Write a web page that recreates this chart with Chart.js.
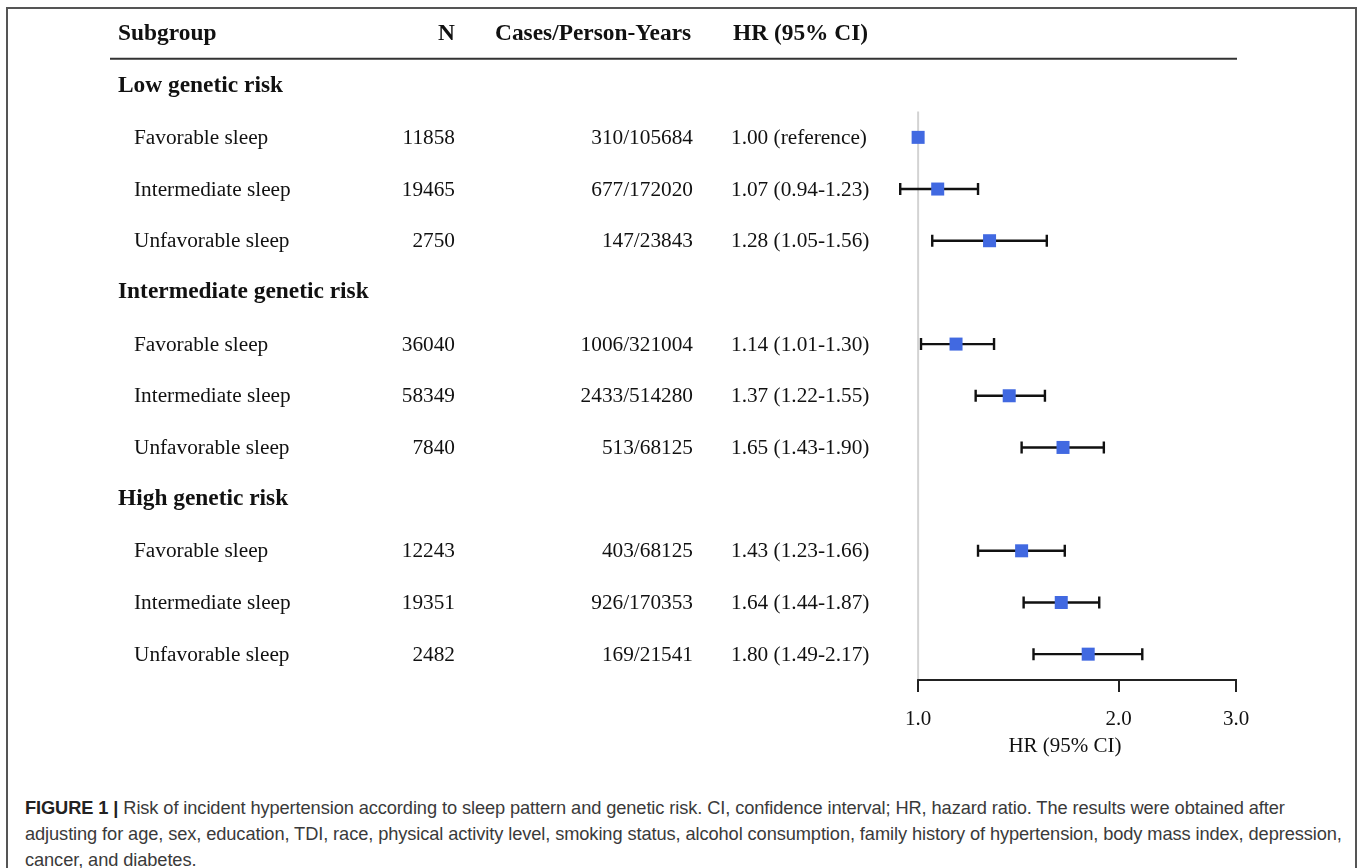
<!DOCTYPE html>
<html>
<head>
<meta charset="utf-8">
<script src="https://cdn.jsdelivr.net/npm/chart.js@4.4.1/dist/chart.umd.min.js"></script>
<style>
    html, body { margin: 0; padding: 0; background: #fff; overflow: hidden; }
    body { width: 1358px; height: 868px; position: relative; }
    .frame { position: absolute; left: 6px; top: 7px; width: 1351px; height: 900px; border: 2px solid #555; box-sizing: border-box; }
    .plot { position: absolute; left: 0; top: 0; width: 1358px; height: 770px; }
    .caption { position: absolute; left: 25px; top: 795px; font-family: 'Liberation Sans', Arial, sans-serif; font-size: 18.25px; line-height: 26px; color: #3a3a3a; white-space: nowrap; letter-spacing: -0.1px; }
    .caption b { color: #222; }
</style>
</head>
<body>
<div class="frame"></div>
<div class="plot"><canvas id="forestChart"></canvas></div>
<div class="caption">
    <b>FIGURE 1 |</b> Risk of incident hypertension according to sleep pattern and genetic risk. CI, confidence interval; HR, hazard ratio. The results were obtained after<br>
    adjusting for age, sex, education, TDI, race, physical activity level, smoking status, alcohol consumption, family history of hypertension, body mass index, depression,<br>
    cancer, and diabetes.
</div>
<script>
const headers = ['Subgroup', 'N', 'Cases/Person-Years', 'HR (95% CI)'];
const groups = ['Low genetic risk', 'Intermediate genetic risk', 'High genetic risk'];
const sleepLabels = ['Favorable sleep', 'Intermediate sleep', 'Unfavorable sleep'];
const nValues = [11858, 19465, 2750, 36040, 58349, 7840, 12243, 19351, 2482];
const casesPY = ['310/105684', '677/172020', '147/23843', '1006/321004', '2433/514280', '513/68125', '403/68125', '926/170353', '169/21541'];
const hrValues = [1.00, 1.07, 1.28, 1.14, 1.37, 1.65, 1.43, 1.64, 1.80];
const lowerCI = [null, 0.94, 1.05, 1.01, 1.22, 1.43, 1.23, 1.44, 1.49];
const upperCI = [null, 1.23, 1.56, 1.30, 1.55, 1.90, 1.66, 1.87, 2.17];
const xTicks = [1.0, 2.0, 3.0];

// row index for each estimate: group header takes one row, then 3 sleep rows
const rowOf = i => Math.floor(i / 3) * 4 + (i % 3) + 1;

const serif = "'Liberation Serif', 'Times New Roman', serif";

function hrText(i) {
    if (lowerCI[i] === null) return hrValues[i].toFixed(2) + ' (reference)';
    return hrValues[i].toFixed(2) + ' (' + lowerCI[i].toFixed(2) + '-' + upperCI[i].toFixed(2) + ')';
}

const forestPlugin = {
    id: 'forest',
    beforeDatasetsDraw(chart) {
        const { ctx, scales: { x, y }, chartArea } = chart;
        ctx.save();
        // reference line at HR = 1
        ctx.strokeStyle = '#d3d3d3';
        ctx.lineWidth = 2;
        ctx.beginPath();
        ctx.moveTo(x.getPixelForValue(1), y.getPixelForValue(0.5));
        ctx.lineTo(x.getPixelForValue(1), chartArea.bottom);
        ctx.stroke();

        // confidence intervals
        ctx.strokeStyle = '#111';
        ctx.lineWidth = 2.4;
        hrValues.forEach((v, i) => {
            if (lowerCI[i] === null) return;
            const py = y.getPixelForValue(rowOf(i));
            const x1 = x.getPixelForValue(lowerCI[i]);
            const x2 = x.getPixelForValue(upperCI[i]);
            ctx.beginPath();
            ctx.moveTo(x1, py); ctx.lineTo(x2, py);
            ctx.moveTo(x1, py - 6); ctx.lineTo(x1, py + 6);
            ctx.moveTo(x2, py - 6); ctx.lineTo(x2, py + 6);
            ctx.stroke();
        });

        // x axis line from 1.0 to 3.0
        ctx.strokeStyle = '#222';
        ctx.lineWidth = 2;
        ctx.beginPath();
        ctx.moveTo(x.getPixelForValue(xTicks[0]) - 1, chartArea.bottom);
        ctx.lineTo(x.getPixelForValue(xTicks[xTicks.length - 1]) + 1, chartArea.bottom);
        ctx.stroke();
        ctx.restore();
    },
    afterDraw(chart) {
        const { ctx, scales: { x, y } } = chart;
        ctx.save();
        ctx.fillStyle = '#111';
        ctx.textBaseline = 'middle';

        // header row
        const hy = y.getPixelForValue(-1);
        ctx.font = 'bold 23.4px ' + serif;
        ctx.textAlign = 'left';
        ctx.fillText(headers[0], 118, hy);
        ctx.textAlign = 'right';
        ctx.fillText(headers[1], 455, hy);
        ctx.textAlign = 'left';
        ctx.fillText(headers[2], 495, hy);
        ctx.fillText(headers[3], 733, hy);

        // rule under header
        ctx.strokeStyle = '#333';
        ctx.lineWidth = 2;
        ctx.beginPath();
        ctx.moveTo(110, y.getPixelForValue(-0.5) - 1);
        ctx.lineTo(x.getPixelForValue(3) + 1, y.getPixelForValue(-0.5) - 1);
        ctx.stroke();

        // group headers
        groups.forEach((g, gi) => {
            ctx.font = 'bold 23.4px ' + serif;
            ctx.textAlign = 'left';
            ctx.fillText(g, 118, y.getPixelForValue(gi * 4));
        });

        // rows
        ctx.font = '21.3px ' + serif;
        hrValues.forEach((v, i) => {
            const py = y.getPixelForValue(rowOf(i)) + 1;
            ctx.textAlign = 'left';
            ctx.fillText(sleepLabels[i % 3], 134, py);
            ctx.textAlign = 'right';
            ctx.fillText(String(nValues[i]), 455, py);
            ctx.fillText(casesPY[i], 693, py);
            ctx.textAlign = 'left';
            ctx.fillText(hrText(i), 731, py);
        });
        ctx.restore();
    }
};

const ctx = document.getElementById('forestChart');
new Chart(ctx, {
    type: 'scatter',
    data: {
        datasets: [{
            label: 'HR',
            data: hrValues.map((v, i) => ({ x: v, y: rowOf(i) })),
            backgroundColor: '#4169e1',
            borderColor: '#4169e1',
            borderWidth: 0,
            pointStyle: 'rect',
            pointRadius: 9.2,
            pointHoverRadius: 9.2
        }]
    },
    options: {
        responsive: true,
        maintainAspectRatio: false,
        animation: false,
        events: [],
        layout: { padding: { left: 894, right: 122, top: 34, bottom: 0 } },
        plugins: { legend: { display: false }, tooltip: { enabled: false } },
        scales: {
            x: {
                type: 'logarithmic',
                min: 0.92,
                max: 3.0,
                afterBuildTicks: s => { s.ticks = xTicks.map(v => ({ value: v })); },
                afterFit: s => { s.height = 90; },
                border: { display: false },
                grid: { drawOnChartArea: false, drawTicks: true, tickLength: 12, color: '#222', lineWidth: 2 },
                ticks: {
                    autoSkip: false,
                    maxRotation: 0,
                    padding: 15,
                    color: '#111',
                    font: { family: serif, size: 21 },
                    callback: v => Number(v).toFixed(1)
                },
                title: {
                    display: true,
                    text: 'HR (95% CI)',
                    color: '#111',
                    font: { family: serif, size: 21 },
                    padding: { top: 0, bottom: 11 }
                }
            },
            y: {
                type: 'linear',
                reverse: true,
                min: -1,
                max: 11.5,
                display: false
            }
        }
    },
    plugins: [forestPlugin]
});
</script>
</body>
</html>
